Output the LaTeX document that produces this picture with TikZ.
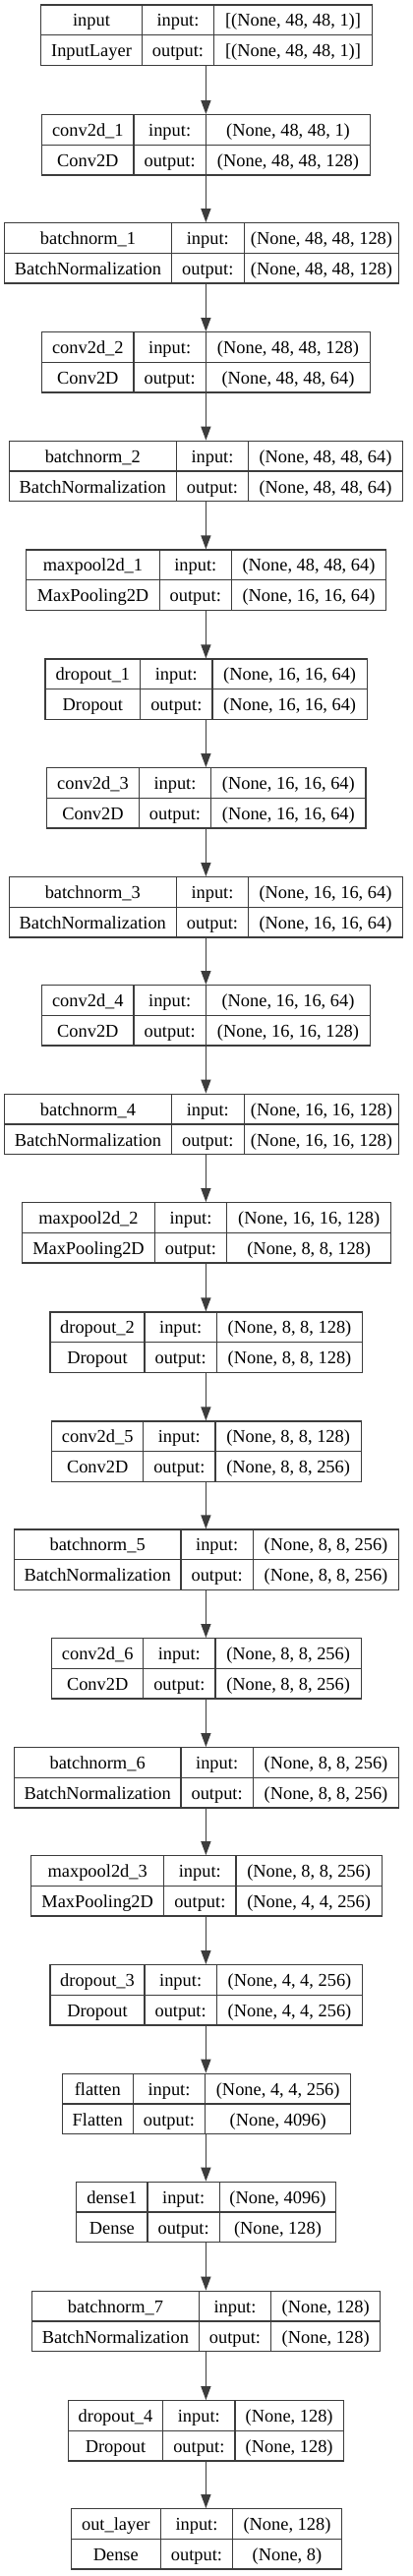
\documentclass[tikz,border=0pt]{standalone}
\usepackage{fontspec}
\setmainfont{Liberation Serif}
\usetikzlibrary{arrows.meta}

\definecolor{edgegray}{HTML}{3C3C3C}

\tikzset{
    layerbox/.style={draw=edgegray, line width=1.3pt, inner sep=0pt,
        minimum height=61.3pt},
    cellline/.style={draw=edgegray, line width=1.3pt},
    celltext/.style={anchor=base, inner sep=0pt, font=\fontsize{18.4}{22}\selectfont},
    conn/.style={draw=edgegray, line width=1.3pt,
        -{Triangle[length=14pt,width=10pt]}}
}

\begin{document}
\begin{tikzpicture}[x=1pt, y=-1pt]
    \useasboundingbox (0,0) rectangle (420,2619);
    \coordinate (ax) at (209.4,0);

    % Draw layers
    \foreach \lid/\ytop/\xa/\xb/\xc/\xd/\lname/\ltype/\shin/\shout in {
        in/5/41.7/144.3/217.7/378.3/input/InputLayer/{[(None, 48, 48, 1)]}/{[(None, 48, 48, 1)]},
        conv1/116.7/42.7/136/209.3/376.7/conv2d\_1/Conv2D/{(None, 48, 48, 1)}/{(None, 48, 48, 128)},
        bn1/226.7/4.7/174.3/248.3/405.7/batchnorm\_1/BatchNormalization/{(None, 48, 48, 128)}/{(None, 48, 48, 128)},
        conv2/337.7/42.7/136/209.3/376.7/conv2d\_2/Conv2D/{(None, 48, 48, 128)}/{(None, 48, 48, 64)},
        bn2/448.3/9.3/179.3/252.7/409.3/batchnorm\_2/BatchNormalization/{(None, 48, 48, 64)}/{(None, 48, 48, 64)},
        pool1/559/26.7/162.3/235.3/392.7/maxpool2d\_1/MaxPooling2D/{(None, 48, 48, 64)}/{(None, 16, 16, 64)},
        drop1/670/46/142.7/216/373.3/dropout\_1/Dropout/{(None, 16, 16, 64)}/{(None, 16, 16, 64)},
        conv3/780.7/47.7/141.3/214.7/372/conv2d\_3/Conv2D/{(None, 16, 16, 64)}/{(None, 16, 16, 64)},
        bn3/891.7/9.3/179.3/252.7/409.3/batchnorm\_3/BatchNormalization/{(None, 16, 16, 64)}/{(None, 16, 16, 64)},
        conv4/1001.7/42.7/136/209.3/376.7/conv2d\_4/Conv2D/{(None, 16, 16, 64)}/{(None, 16, 16, 128)},
        bn4/1112.3/4.7/174.3/248.3/405.7/batchnorm\_4/BatchNormalization/{(None, 16, 16, 128)}/{(None, 16, 16, 128)},
        pool2/1222.7/22.7/157.3/230.7/397.7/maxpool2d\_2/MaxPooling2D/{(None, 16, 16, 128)}/{(None, 8, 8, 128)},
        drop2/1334/51/147/220.3/368.7/dropout\_2/Dropout/{(None, 8, 8, 128)}/{(None, 8, 8, 128)},
        conv5/1445/52.7/145.7/219/367.3/conv2d\_5/Conv2D/{(None, 8, 8, 128)}/{(None, 8, 8, 256)},
        bn5/1555/14.3/184/257.3/405.7/batchnorm\_5/BatchNormalization/{(None, 8, 8, 256)}/{(None, 8, 8, 256)},
        conv6/1665.7/52.7/145.7/219/367.3/conv2d\_6/Conv2D/{(None, 8, 8, 256)}/{(None, 8, 8, 256)},
        bn6/1776.7/14.3/184/257.3/405.7/batchnorm\_6/BatchNormalization/{(None, 8, 8, 256)}/{(None, 8, 8, 256)},
        pool3/1886.7/31.7/166.7/240/388.3/maxpool2d\_3/MaxPooling2D/{(None, 8, 8, 256)}/{(None, 4, 4, 256)},
        drop3/1997.7/51/147/220.3/368.7/dropout\_3/Dropout/{(None, 4, 4, 256)}/{(None, 4, 4, 256)},
        flat/2108.3/63.3/135.3/208.7/356.7/flatten/Flatten/{(None, 4, 4, 256)}/{(None, 4096)},
        dense/2218.3/77.7/150/223.3/341.7/dense1/Dense/{(None, 4096)}/{(None, 128)},
        bn7/2329.3/32.7/202.3/275.7/386.7/batchnorm\_7/BatchNormalization/{(None, 128)}/{(None, 128)},
        drop4/2440.7/69.3/165.7/239/349.3/dropout\_4/Dropout/{(None, 128)}/{(None, 128)},
        out/2550.7/72.3/163.3/236.7/347.3/out\_layer/Dense/{(None, 128)}/{(None, 8)}
    }{
        \pgfmathsetmacro\ybot{\ytop+61.3}
        \pgfmathsetmacro\ymid{\ytop+30.8}
        \node[layerbox, minimum width={(\xd-\xa)*1pt}] (\lid)
            at ({(\xa+\xd)/2},{\ytop+30.65}) {};
        \draw[cellline] (\xa,\ymid) -- (\xd,\ymid);
        \draw[cellline] (\xb,\ytop) -- (\xb,\ybot);
        \draw[cellline] (\xc,\ytop) -- (\xc,\ybot);
        \node[celltext] (\lid-name) at ({(\xa+\xb)/2},{\ytop+21.8}) {\lname};
        \node[celltext] (\lid-type) at ({(\xa+\xb)/2},{\ytop+52.8}) {\ltype};
        \node[celltext] (\lid-inl) at ({(\xb+\xc)/2},{\ytop+21.8}) {input:};
        \node[celltext] (\lid-outl) at ({(\xb+\xc)/2},{\ytop+52.8}) {output:};
        \node[celltext] (\lid-in) at ({(\xc+\xd)/2},{\ytop+21.8}) {\shin};
        \node[celltext] (\lid-out) at ({(\xc+\xd)/2},{\ytop+52.8}) {\shout};
    }

    % Draw arrows
    \foreach \a/\b in {in/conv1, conv1/bn1, bn1/conv2, conv2/bn2, bn2/pool1,
        pool1/drop1, drop1/conv3, conv3/bn3, bn3/conv4, conv4/bn4, bn4/pool2,
        pool2/drop2, drop2/conv5, conv5/bn5, bn5/conv6, conv6/bn6, bn6/pool3,
        pool3/drop3, drop3/flat, flat/dense, dense/bn7, bn7/drop4, drop4/out}
        \draw[conn] (\a.south -| ax) -- (\b.north -| ax);

\end{tikzpicture}
\end{document}
